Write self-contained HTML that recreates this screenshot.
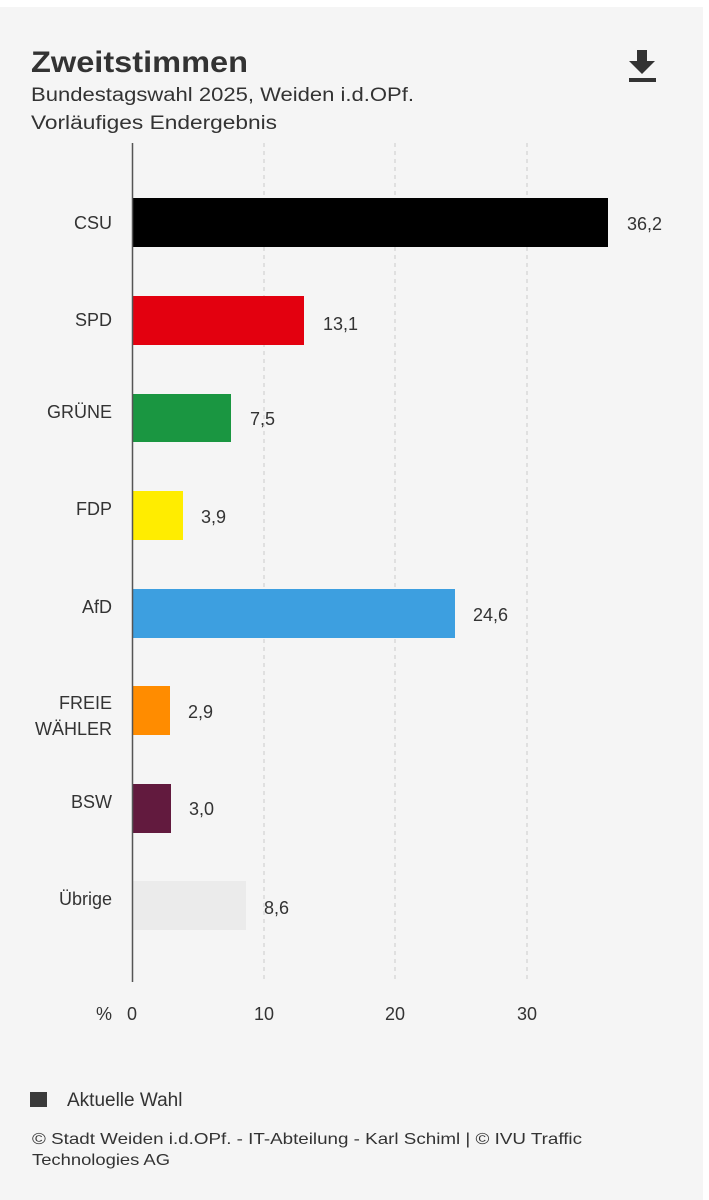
<!DOCTYPE html>
<html><head><meta charset="utf-8"><style>
body{margin:0;width:709px;height:1200px;background:#fff;font-family:"Liberation Sans",sans-serif;color:#333;overflow:hidden}
#p{position:absolute;left:0;top:7px;width:703px;height:1193px;background:#f5f5f5}
.t{position:absolute;white-space:nowrap}
</style></head><body><div id="p"></div>
<svg width="709" height="1200" style="position:absolute;left:0;top:0" font-family="Liberation Sans, sans-serif">
<text x="31" y="72" font-size="30" font-weight="bold" fill="#333" textLength="217" lengthAdjust="spacingAndGlyphs">Zweitstimmen</text>
<text x="31" y="101" font-size="19" fill="#333" textLength="383" lengthAdjust="spacingAndGlyphs">Bundestagswahl 2025, Weiden i.d.OPf.</text>
<text x="31" y="129" font-size="19" fill="#333" textLength="246" lengthAdjust="spacingAndGlyphs">Vorläufiges Endergebnis</text>
<g fill="#333"><rect x="637" y="50" width="10" height="12"/><polygon points="629,61 655,61 642,74"/><rect x="629" y="78" width="27" height="4"/></g>
<g stroke="#ccc" stroke-dasharray="4,4" stroke-width="1"><line x1="264" y1="143" x2="264" y2="982"/><line x1="395" y1="143" x2="395" y2="982"/><line x1="527" y1="143" x2="527" y2="982"/></g>
<rect x="132" y="198" width="476" height="49" fill="#000"/>
<rect x="132" y="296" width="172" height="49" fill="#e3000f"/>
<rect x="132" y="394" width="99" height="48" fill="#1a9641"/>
<rect x="132" y="491" width="51" height="49" fill="#ffed00"/>
<rect x="132" y="589" width="323" height="49" fill="#3d9fe0"/>
<rect x="132" y="686" width="38" height="49" fill="#ff8c00"/>
<rect x="132" y="784" width="39" height="49" fill="#621a3e"/>
<rect x="132" y="881" width="114" height="49" fill="#ebebeb"/>
<line x1="132.5" y1="143" x2="132.5" y2="982" stroke="#555" stroke-width="1.5"/>
<g font-size="18" fill="#333" text-anchor="end">
<text x="112" y="229">CSU</text><text x="112" y="326">SPD</text><text x="112" y="418">GRÜNE</text><text x="112" y="515">FDP</text><text x="112" y="613">AfD</text><text x="112" y="709">FREIE</text><text x="112" y="735">WÄHLER</text><text x="112" y="808">BSW</text><text x="112" y="905">Übrige</text>
</g>
<g font-size="18" fill="#333">
<text x="627" y="230">36,2</text><text x="323" y="330">13,1</text><text x="250" y="425">7,5</text><text x="201" y="523">3,9</text><text x="473" y="621">24,6</text><text x="188" y="718">2,9</text><text x="189" y="815">3,0</text><text x="264" y="914">8,6</text>
</g>
<g font-size="18" fill="#333" text-anchor="middle">
<text x="104" y="1020">%</text><text x="132" y="1020">0</text><text x="264" y="1020">10</text><text x="395" y="1020">20</text><text x="527" y="1020">30</text>
</g>
<rect x="30" y="1092" width="17" height="15" fill="#3a3a3a"/>
<text x="67" y="1106" font-size="19" fill="#333">Aktuelle Wahl</text>
<text x="32" y="1144" font-size="16" fill="#333" textLength="550" lengthAdjust="spacingAndGlyphs">© Stadt Weiden i.d.OPf. - IT-Abteilung - Karl Schiml | © IVU Traffic</text>
<text x="32" y="1165" font-size="16" fill="#333" textLength="138" lengthAdjust="spacingAndGlyphs">Technologies AG</text>
</svg>
</body></html>
